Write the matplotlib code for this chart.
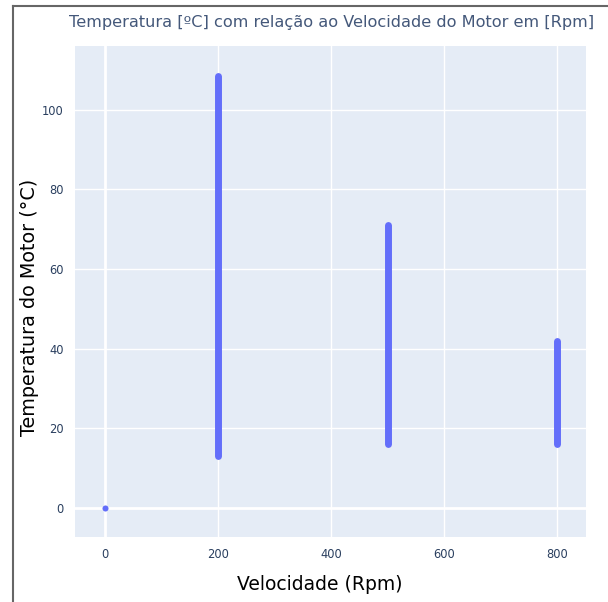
import matplotlib.pyplot as plt
from matplotlib.ticker import MultipleLocator
from matplotlib.lines import Line2D

# velocity (rpm) and the range of motor temperatures seen at each one
velocidade = [200, 500, 800]
temp_min = [13.0, 16.0, 16.0]
temp_max = [108.5, 71.0, 41.8]
# single reading at rest
vel_zero = [0]
temp_zero = [0]

BG = '#E5ECF6'
MARK = '#636EFA'
FONT = '#2a3f5f'

plt.rcParams['font.family'] = ['DejaVu Sans']

fig = plt.figure(figsize=(6.08, 6.02), dpi=100)
ax = fig.add_axes([75 / 608, 1 - 537 / 602, 511 / 608, 491 / 602])
ax.set_facecolor(BG)
for s in ax.spines.values():
    s.set_visible(False)

ax.set_xlim(-53, 851)
ax.set_ylim(-7.3, 116)
ax.xaxis.set_major_locator(MultipleLocator(200))
ax.yaxis.set_major_locator(MultipleLocator(20))
ax.grid(True, color='white', linewidth=1)
ax.set_axisbelow(True)
ax.axhline(0, color='white', linewidth=2, zorder=0.5)
ax.axvline(0, color='white', linewidth=2, zorder=0.5)
ax.tick_params(length=0, labelsize=8.3, labelcolor=FONT, pad=8)

for x, lo, hi in zip(velocidade, temp_min, temp_max):
    ax.plot([x, x], [lo, hi], color=MARK, linewidth=5, solid_capstyle='round', zorder=3)
ax.scatter(vel_zero, temp_zero, s=19, color=MARK, zorder=3, linewidths=0)

fig.text(332 / 608, 1 - 22 / 602, 'Temperatura [ºC] com relação ao Velocidade do Motor em [Rpm]',
         ha='center', va='center', fontsize=11.6, color='#44587a')
fig.text(320 / 608, 1 - 585 / 602, 'Velocidade (Rpm)', ha='center', va='center',
         fontsize=13.5, color='black')
fig.text(30 / 608, 1 - 307 / 602, 'Temperatura do Motor (°C)', ha='center', va='center',
         rotation=90, fontsize=13.8, color='black')

# frame around the figure (left and top edges visible)
fig.add_artist(Line2D([12.5 / 608, 12.5 / 608], [0, 1 - 6 / 602], transform=fig.transFigure,
                      color='#666666', linewidth=1.5))
fig.add_artist(Line2D([12.5 / 608, 1], [1 - 6 / 602, 1 - 6 / 602], transform=fig.transFigure,
                      color='#666666', linewidth=1.5))

fig.savefig('out.png', dpi=100)
